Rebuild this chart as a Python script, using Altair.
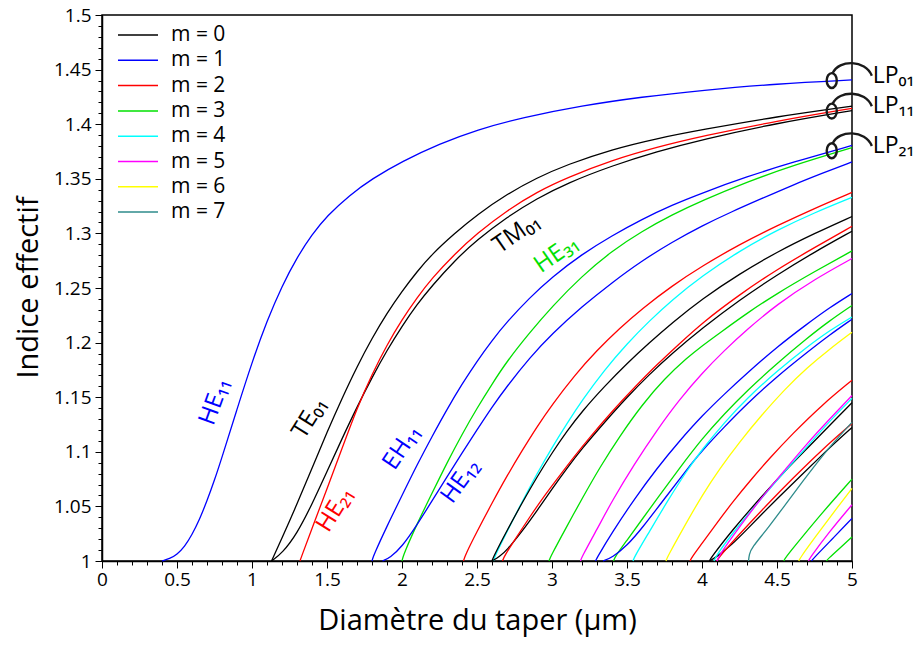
import altair as alt
import pandas as pd

FONT = "Open Sans"

M_LABELS = ["m = 0", "m = 1", "m = 2", "m = 3", "m = 4", "m = 5", "m = 6", "m = 7"]
M_COLORS = ["#000000", "#0000ff", "#ff0000", "#00e000", "#00ffff", "#ff00ff", "#ffff00", "#2e8b8b"]

X_MAJOR = [0, 0.5, 1, 1.5, 2, 2.5, 3, 3.5, 4, 4.5, 5]
Y_MAJOR = [1, 1.05, 1.1, 1.15, 1.2, 1.25, 1.3, 1.35, 1.4, 1.45, 1.5]
X_MINOR = [round(i / 10, 1) for i in range(51)]
Y_MINOR = [round(1 + i / 100, 2) for i in range(51)]

# ---- mode curves: (diameter um, effective index) ----
HE11 = [(0.40, 1.000), (0.45, 1.002), (0.50, 1.006), (0.55, 1.013), (0.60, 1.024), (0.65, 1.038),
        (0.70, 1.055), (0.75, 1.074), (0.80, 1.095), (0.90, 1.139), (1.00, 1.182), (1.10, 1.220),
        (1.20, 1.252), (1.30, 1.278), (1.40, 1.299), (1.50, 1.316), (1.65, 1.335), (1.80, 1.350),
        (2.00, 1.366), (2.25, 1.382), (2.50, 1.395), (2.80, 1.406), (3.20, 1.417), (3.60, 1.425),
        (4.00, 1.431), (4.50, 1.437), (5.00, 1.4405)]
TE01 = [(1.13, 1.000), (1.20, 1.021), (1.30, 1.052), (1.40, 1.085), (1.50, 1.118), (1.60, 1.149),
        (1.70, 1.178), (1.80, 1.204), (1.90, 1.227), (2.00, 1.247), (2.10, 1.265), (2.20, 1.281),
        (2.35, 1.300), (2.50, 1.317), (2.70, 1.336), (2.90, 1.351), (3.10, 1.363), (3.40, 1.377),
        (3.70, 1.387), (4.00, 1.395), (4.50, 1.407), (5.00, 1.4165)]
TM01 = [(1.13, 1.000), (1.20, 1.007), (1.30, 1.025), (1.40, 1.052), (1.50, 1.082), (1.60, 1.112),
        (1.70, 1.141), (1.80, 1.168), (1.90, 1.193), (2.00, 1.215), (2.10, 1.235), (2.20, 1.252),
        (2.35, 1.275), (2.50, 1.294), (2.70, 1.315), (2.90, 1.332), (3.10, 1.346), (3.40, 1.362),
        (3.70, 1.375), (4.00, 1.386), (4.50, 1.401), (5.00, 1.4125)]
HE21 = [(1.32, 1.000), (1.33, 1.004), (1.40, 1.030), (1.50, 1.066), (1.60, 1.103), (1.70, 1.140),
        (1.80, 1.171), (1.90, 1.198), (2.00, 1.221), (2.10, 1.241), (2.20, 1.259), (2.35, 1.281),
        (2.50, 1.300), (2.70, 1.321), (2.90, 1.338), (3.10, 1.351), (3.40, 1.367), (3.70, 1.379),
        (4.00, 1.389), (4.50, 1.403), (5.00, 1.4145)]
EH11 = [(1.80, 1.000), (1.81, 1.005), (1.90, 1.032), (2.00, 1.060), (2.10, 1.088), (2.20, 1.114),
        (2.30, 1.139), (2.40, 1.162), (2.50, 1.183), (2.60, 1.202), (2.70, 1.219), (2.85, 1.241),
        (3.00, 1.260), (3.20, 1.281), (3.40, 1.298), (3.60, 1.313), (3.80, 1.326), (4.00, 1.337),
        (4.30, 1.352), (4.60, 1.365), (5.00, 1.3805)]
HE31 = [(2.00, 1.000), (2.01, 1.006), (2.10, 1.034), (2.20, 1.062), (2.30, 1.090), (2.40, 1.116),
        (2.50, 1.140), (2.60, 1.162), (2.70, 1.183), (2.85, 1.209), (3.00, 1.233), (3.20, 1.261),
        (3.40, 1.284), (3.60, 1.302), (3.80, 1.317), (4.00, 1.330), (4.30, 1.347), (4.60, 1.362),
        (5.00, 1.3785)]
HE12 = [(1.87, 1.000), (1.92, 1.003), (2.00, 1.013), (2.10, 1.033), (2.20, 1.055), (2.30, 1.077),
        (2.40, 1.099), (2.50, 1.120), (2.60, 1.141), (2.70, 1.160), (2.85, 1.186), (3.00, 1.208),
        (3.20, 1.233), (3.40, 1.255), (3.60, 1.275), (3.80, 1.292), (4.00, 1.307), (4.20, 1.320),
        (4.40, 1.332), (4.60, 1.344), (4.80, 1.355), (5.00, 1.3655)]
EH21 = [(2.41, 1.000), (2.42, 1.005), (2.50, 1.027), (2.60, 1.053), (2.70, 1.078), (2.80, 1.101),
        (2.90, 1.123), (3.00, 1.143), (3.15, 1.170), (3.30, 1.193), (3.45, 1.213), (3.60, 1.231),
        (3.80, 1.252), (4.00, 1.270), (4.25, 1.290), (4.50, 1.307), (4.75, 1.323), (5.00, 1.3375)]
HE41 = [(2.61, 1.000), (2.62, 1.005), (2.70, 1.027), (2.80, 1.054), (2.90, 1.080), (3.00, 1.104),
        (3.10, 1.126), (3.20, 1.147), (3.35, 1.175), (3.50, 1.199), (3.65, 1.220), (3.80, 1.239),
        (4.00, 1.261), (4.25, 1.284), (4.50, 1.303), (4.75, 1.319), (5.00, 1.333)]
TE02 = [(2.60, 1.000), (2.61, 1.004), (2.70, 1.028), (2.80, 1.053), (2.90, 1.077), (3.00, 1.099),
        (3.10, 1.119), (3.20, 1.137), (3.35, 1.160), (3.50, 1.181), (3.65, 1.200), (3.80, 1.218),
        (4.00, 1.240), (4.25, 1.263), (4.50, 1.283), (4.75, 1.300), (5.00, 1.3155)]
TM02 = [(2.60, 1.000), (2.65, 1.004), (2.70, 1.010), (2.80, 1.027), (2.90, 1.046), (3.00, 1.066),
        (3.10, 1.085), (3.20, 1.103), (3.35, 1.127), (3.50, 1.150), (3.65, 1.171), (3.80, 1.190),
        (4.00, 1.213), (4.25, 1.239), (4.50, 1.262), (4.75, 1.283), (5.00, 1.302)]
HE22 = [(2.67, 1.000), (2.68, 1.004), (2.75, 1.019), (2.85, 1.040), (2.95, 1.060), (3.05, 1.078),
        (3.15, 1.096), (3.25, 1.113), (3.40, 1.137), (3.55, 1.159), (3.70, 1.180), (3.85, 1.199),
        (4.00, 1.218), (4.25, 1.244), (4.50, 1.267), (4.75, 1.287), (5.00, 1.3065)]
EH31 = [(2.98, 1.000), (2.99, 1.004), (3.10, 1.032), (3.20, 1.057), (3.32, 1.086), (3.45, 1.114),
        (3.60, 1.143), (3.75, 1.167), (3.90, 1.186), (4.00, 1.197), (4.12, 1.209), (4.30, 1.227),
        (4.50, 1.245), (4.75, 1.265), (5.00, 1.284)]
HE51 = [(3.19, 1.000), (3.20, 1.004), (3.30, 1.029), (3.40, 1.055), (3.55, 1.089), (3.70, 1.120),
        (3.85, 1.148), (4.00, 1.172), (4.15, 1.193), (4.30, 1.212), (4.50, 1.235), (4.75, 1.258),
        (5.00, 1.277)]
EH12 = [(3.29, 1.000), (3.30, 1.003), (3.40, 1.026), (3.55, 1.057), (3.70, 1.085), (3.85, 1.110),
        (4.00, 1.133), (4.15, 1.153), (4.30, 1.172), (4.50, 1.196), (4.70, 1.217), (4.85, 1.232),
        (5.00, 1.245)]
HE32 = [(3.41, 1.000), (3.42, 1.004), (3.50, 1.019), (3.60, 1.038), (3.70, 1.057), (3.85, 1.085),
        (4.00, 1.112), (4.15, 1.135), (4.30, 1.156), (4.50, 1.181), (4.70, 1.204), (4.85, 1.220),
        (5.00, 1.234)]
HE13 = [(3.34, 1.000), (3.40, 1.003), (3.50, 1.014), (3.60, 1.030), (3.75, 1.057), (3.90, 1.084),
        (4.00, 1.101), (4.15, 1.123), (4.30, 1.144), (4.50, 1.169), (4.70, 1.191), (4.85, 1.207),
        (5.00, 1.2214)]
EH41 = [(3.54, 1.000), (3.55, 1.004), (3.65, 1.027), (3.77, 1.055), (3.90, 1.083), (4.00, 1.102),
        (4.15, 1.127), (4.30, 1.149), (4.50, 1.174), (4.70, 1.196), (4.85, 1.211), (5.00, 1.2235)]
HE61 = [(3.76, 1.000), (3.77, 1.004), (3.90, 1.036), (4.00, 1.060), (4.12, 1.085), (4.25, 1.109),
        (4.40, 1.134), (4.55, 1.157), (4.70, 1.177), (4.85, 1.194), (5.00, 1.2095)]
EH22 = [(3.92, 1.000), (3.93, 1.003), (4.00, 1.016), (4.10, 1.035), (4.21, 1.055), (4.33, 1.075),
        (4.45, 1.094), (4.60, 1.116), (4.80, 1.143), (5.00, 1.1655)]
TE03 = [(4.05, 1.000), (4.06, 1.003), (4.20, 1.028), (4.39, 1.058), (4.55, 1.082), (4.73, 1.107),
        (4.87, 1.127), (5.00, 1.145)]
TM03 = [(4.05, 1.000), (4.10, 1.004), (4.20, 1.015), (4.30, 1.029), (4.40, 1.043), (4.50, 1.057),
        (4.65, 1.077), (4.80, 1.097), (4.90, 1.110), (5.00, 1.1223)]
HE23 = [(4.10, 1.000), (4.11, 1.003), (4.20, 1.017), (4.30, 1.032), (4.45, 1.054), (4.60, 1.075),
        (4.80, 1.102), (5.00, 1.126)]
HE42 = [(4.08, 1.000), (4.09, 1.004), (4.20, 1.025), (4.40, 1.058), (4.55, 1.082), (4.71, 1.106),
        (4.85, 1.128), (5.00, 1.149)]
EH51 = [(4.10, 1.000), (4.11, 1.004), (4.20, 1.022), (4.39, 1.057), (4.55, 1.083), (4.69, 1.106),
        (4.85, 1.130), (5.00, 1.1515)]
HE71 = [(4.31, 1.000), (4.315, 1.006), (4.33, 1.012), (4.44, 1.030), (4.60, 1.060), (4.75, 1.087),
        (4.86, 1.106), (5.00, 1.127)]
EH32 = [(4.545, 1.000), (4.555, 1.003), (4.65, 1.019), (4.80, 1.044), (5.00, 1.075)]
EH61 = [(4.645, 1.000), (4.655, 1.003), (4.75, 1.021), (4.88, 1.045), (5.00, 1.0665)]
HE52 = [(4.71, 1.000), (4.72, 1.003), (4.85, 1.027), (5.00, 1.0515)]
EH13 = [(4.73, 1.000), (4.74, 1.002), (4.86, 1.019), (5.00, 1.039)]
HE33 = [(4.83, 1.000), (4.84, 1.002), (4.92, 1.012), (5.00, 1.022)]

CURVES = [
    ("HE11", 1, HE11), ("TE01", 0, TE01), ("TM01", 0, TM01), ("HE21", 2, HE21),
    ("EH11", 1, EH11), ("HE31", 3, HE31), ("HE12", 1, HE12), ("EH21", 2, EH21),
    ("HE41", 4, HE41), ("TE02", 0, TE02), ("TM02", 0, TM02), ("HE22", 2, HE22),
    ("EH31", 3, EH31), ("HE51", 5, HE51), ("EH12", 1, EH12), ("HE32", 3, HE32),
    ("HE13", 1, HE13), ("EH41", 4, EH41), ("HE61", 6, HE61), ("EH22", 2, EH22),
    ("TE03", 0, TE03), ("TM03", 0, TM03), ("HE23", 2, HE23), ("HE42", 4, HE42),
    ("EH51", 5, EH51), ("HE71", 7, HE71), ("EH32", 3, EH32), ("EH61", 6, EH61),
    ("HE52", 5, HE52), ("EH13", 1, EH13), ("HE33", 3, HE33),
]

# ---- annotations ----
ANN_TEXT = ["HE₁₁", "TE₀₁", "HE₂₁", "EH₁₁", "HE₁₂", "TM₀₁", "HE₃₁"]
ANN_X = [0.753, 1.385, 1.555, 2.00, 2.39, 2.765, 3.03]
ANN_Y = [1.146, 1.131, 1.047, 1.104, 1.073, 1.300, 1.281]
ANN_ANGLE = [290, 302, 302, 304, 306, 325, 325]
ANN_COLOR = ["#0000ff", "#000000", "#ff0000", "#0000ff", "#0000ff", "#000000", "#00e000"]

LP_TEXT = ["LP₀₁", "LP₁₁", "LP₂₁"]
LP_X = [4.865, 4.865, 4.865]
LP_Y = [1.440, 1.412, 1.3757]

rows = []
for name, m, pts in CURVES:
    for i, (x, y) in enumerate(pts):
        rows.append({"curve": name, "m": M_LABELS[m], "x": x, "y": y, "i": i})
df = pd.DataFrame(rows)

x_scale = alt.Scale(domain=[0, 5], nice=False, zero=False)
y_scale = alt.Scale(domain=[1, 1.5], nice=False, zero=False)

common = dict(grid=False, domainColor="black", tickColor="black", labelColor="black", titleColor="black")

x_axis = alt.Axis(
    values=X_MAJOR, format="~g", orient="bottom", tickSize=7, tickWidth=1,
    title="Diamètre du taper (µm)", titleFontSize=29, titleFont=FONT, titleFontWeight="normal",
    titleY=59, titleBaseline="middle",
    labelFontSize=19, labelFont=FONT, labelPadding=2, labelFlush=False, labelOverlap=False,
    domainWidth=1.5, **common,
)
y_axis = alt.Axis(
    values=Y_MAJOR, format="~g", orient="left", tickSize=7, tickWidth=1,
    title="Indice effectif", titleFontSize=29, titleFont=FONT, titleFontWeight="normal",
    titleX=-74, titleY=272, titleAlign="center", titleBaseline="middle", titleAngle=270,
    labelFontSize=19, labelFont=FONT, labelPadding=4, labelFlush=False, labelOverlap=False,
    domainWidth=1.5, **common,
)
x_minor_axis = alt.Axis(values=X_MINOR, orient="bottom", tickSize=4, tickWidth=1, labels=False,
                        title=None, domain=False, **common)
y_minor_axis = alt.Axis(values=Y_MINOR, orient="left", tickSize=4, tickWidth=1, labels=False,
                        title=None, domain=False, **common)

lines = alt.Chart(df).mark_line(strokeWidth=1.3, interpolate="basis").encode(
    x=alt.X("x:Q", scale=x_scale, axis=x_axis),
    y=alt.Y("y:Q", scale=y_scale, axis=y_axis),
    color=alt.Color(
        "m:N", scale=alt.Scale(domain=M_LABELS, range=M_COLORS),
        legend=alt.Legend(
            title=None, orient="none", legendX=15, legendY=9, symbolType="stroke",
            symbolSize=1600, symbolStrokeWidth=1.5, labelFontSize=21, labelFont=FONT,
            labelColor="black", clipHeight=22, rowPadding=3.3, labelOffset=12, padding=0,
        ),
    ),
    detail="curve:N",
    order="i:Q",
)

minor = alt.Chart(df).mark_point(opacity=0, size=0).encode(
    x=alt.X("x:Q", scale=x_scale, axis=x_minor_axis),
    y=alt.Y("y:Q", scale=y_scale, axis=y_minor_axis),
)

layers = [lines, minor]
for t, x, y, a, c in zip(ANN_TEXT, ANN_X, ANN_Y, ANN_ANGLE, ANN_COLOR):
    d = pd.DataFrame({"t": [t], "x": [x], "y": [y]})
    layers.append(
        alt.Chart(d).mark_text(angle=a, color=c, fontSize=24, font=FONT, align="center", baseline="middle").encode(
            x=alt.X("x:Q", scale=x_scale, axis=None), y=alt.Y("y:Q", scale=y_scale, axis=None), text="t:N")
    )

LP_SHAPE = ("M 0.21 0 A 0.21 0.31 0 1 0 -0.21 0 A 0.21 0.31 0 1 0 0.21 0 Z "
            "M 0.04 -0.31 C 0.3 -0.88 1.4 -0.88 1.67 -0.2")
lp_df = pd.DataFrame({"t": LP_TEXT, "x": LP_X, "y": LP_Y})
layers.append(
    alt.Chart(lp_df).mark_point(shape=LP_SHAPE, size=2304, filled=False, stroke="#1a1a1a", strokeWidth=2.4, opacity=1).encode(
        x=alt.X("x:Q", scale=x_scale, axis=None), y=alt.Y("y:Q", scale=y_scale, axis=None))
)
layers.append(
    alt.Chart(lp_df).mark_text(align="left", baseline="middle", fontSize=23, font=FONT, color="black", dx=41, dy=-5).encode(
        x=alt.X("x:Q", scale=x_scale, axis=None), y=alt.Y("y:Q", scale=y_scale, axis=None), text="t:N")
)

chart = alt.layer(*layers).resolve_axis(x="independent", y="independent").properties(
    width=750, height=546,
    autosize=alt.AutoSizeParams(type="none"),
    padding={"left": 94, "top": 7, "right": 62, "bottom": 77},
).configure_view(stroke="black", strokeWidth=1.5)

chart.save("out.html", embed_options={"renderer": "svg", "actions": False})
